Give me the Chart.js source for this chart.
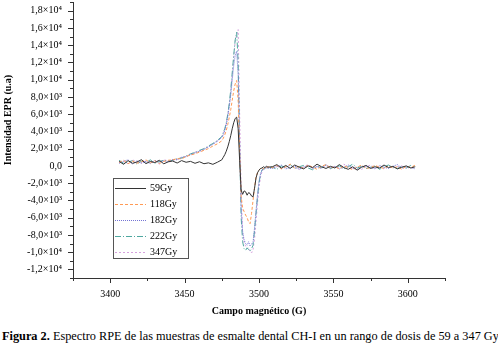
<!DOCTYPE html>
<html>
<head>
<meta charset="utf-8">
<script src="https://cdn.jsdelivr.net/npm/chart.js@4"></script>
<style>
  body { margin: 0; background: #fff; width: 498px; height: 344px; overflow: hidden; position: relative; }
  #marco { position: absolute; left: 0; top: 0; width: 498px; height: 322px; }
  #pie { position: absolute; left: 2px; top: 329px; font-family: 'Liberation Serif', 'Times New Roman', serif;
         font-size: 12.3px; line-height: 14px; white-space: nowrap; color: #000; }
</style>
</head>
<body>
<div id="marco"><canvas id="graficoEPR"></canvas></div>
<div id="pie"><b>Figura 2.</b> Espectro RPE de las muestras de esmalte dental CH-I en un rango de dosis de 59 a 347 Gy</div>
<script>
// campo magnetico (G)
const campo = [
  3406, 3409, 3412, 3415, 3418, 3421, 3424, 3427, 3430, 3433, 3436, 3439, 3442, 3445, 3448, 3451, 3454, 3457, 3460, 3463, 3466, 3469, 3472, 3475,
  3476, 3477, 3478, 3479, 3480, 3481, 3482, 3483, 3484, 3485, 3486, 3487, 3488, 3489, 3490, 3491, 3492, 3493, 3494, 3495, 3496, 3497, 3498, 3499, 3500, 3501, 3502, 3503, 3504, 3505, 3506,
  3509, 3512, 3515, 3518, 3521, 3524, 3527, 3530, 3533, 3536, 3539, 3542, 3545, 3548, 3551, 3554, 3557, 3560, 3563, 3566, 3569, 3572, 3575, 3578, 3581, 3584, 3587, 3590, 3593, 3596, 3599, 3602, 3605
];

// intensidad EPR (u.a) por dosis
const dosis59 = [
  520, 180, 610, 300, 450, 720, 260, 510, 380, 650, 240, 470, 560, 330, 610, 420, 520, 300, 480, 250, 350, 180, 420, 700,
  1000, 1300, 1700, 2200, 2800, 3500, 4300, 5000, 5500, 5650, 4300, 600, -2800, -3300, -2900, -3000, -3400, -3100, -3200, -3500, -3600, -2600, -1400, -800, -500, -300, -250, -100, -200, -50, -150,
  -100, 150, -250, 50, -300, 100, -150, -350, 0, -200, 200, -100, -300, -50, -250, 150, -200, -400, -100, -500, -150, 50, -300, -100, -250, 100, -200, -50, -350, -150, 0, -250, -100
];
const dosis118 = [
  400, 650, 250, 550, 300, 480, 700, 350, 600, 280, 520, 650, 700, 850, 800, 1100, 1250, 1400, 1600, 1800, 2000, 2300, 2550, 2900,
  3200, 3600, 4100, 4800, 5600, 6500, 7600, 8700, 9500, 9900, 7500, 1500, -3500, -4900, -5300, -5700, -6000, -6500, -6700, -5500, -4000, -2500, -1300, -800, -500, -300, -250, -350, -150, -200, -100,
  -200, 50, -350, -100, 200, -250, -50, -300, 100, -150, -400, -50, 150, -250, -100, -350, 0, -200, -450, -150, 100, -300, -200, 50, -150, -300, 0, -250, -100, -400, -50, -200, 100
];
const dosis182 = [
  300, 550, 700, 200, 600, 350, 500, 250, 650, 450, 600, 480, 750, 700, 1000, 1050, 1300, 1500, 1700, 1900, 2200, 2500, 2850, 3300,
  3600, 4100, 4800, 5700, 6900, 8200, 9900, 11600, 12800, 13300, 10500, 2500, -5000, -7600, -8600, -9000, -9200, -8800, -9300, -9100, -8800, -7200, -5200, -3300, -1800, -900, -500, -350, -300, -150, -250,
  -300, -100, 100, -350, -200, 0, -400, -150, 50, -250, -100, -300, 150, -200, -50, -350, -150, 100, -250, -400, -100, 0, -200, -350, 50, -150, -300, -50, 150, -250, -100, -200, -350
];
const dosis222 = [
  650, 300, 450, 600, 200, 550, 400, 700, 300, 500, 650, 550, 650, 850, 900, 1150, 1400, 1550, 1800, 2000, 2300, 2600, 2950, 3400,
  3900, 4300, 5000, 6000, 7200, 8800, 10800, 12800, 14600, 15500, 12000, 2000, -6000, -8800, -9600, -9800, -9500, -9700, -9900, -9600, -9200, -7500, -5500, -3600, -2000, -1000, -500, -300, -350, -200, -250,
  -150, -400, 0, -200, 150, -300, -100, 50, -250, -450, -50, -200, 100, -300, -150, 0, -350, -100, 200, -250, -50, -300, -150, 0, -400, -100, 100, -200, -300, -50, -250, 50, -150
];
const dosis347 = [
  350, 500, 250, 700, 450, 300, 600, 400, 550, 200, 700, 600, 600, 750, 950, 1100, 1350, 1600, 1700, 1950, 2250, 2550, 2900, 3300,
  3700, 4200, 4900, 5800, 7000, 8500, 10500, 12600, 14500, 15200, 15800, 6000, -3000, -7800, -8900, -9300, -9600, -9500, -9900, -10100, -9700, -8500, -6500, -4300, -2500, -1300, -700, -400, -300, -250, -150,
  -250, 0, -300, -150, 100, -200, -400, -100, 150, -300, -50, -250, 50, -350, -100, -200, 200, -150, -300, -50, -400, -100, 100, -250, -150, -350, 50, -200, -100, 0, -300, -150, -250
];

const etiquetas = ['59Gy', '118Gy', '182Gy', '222Gy', '347Gy'];

// marcas de los ejes
const xTicks = [3400, 3450, 3500, 3550, 3600];
const yTicks = [-12000, -10000, -8000, -6000, -4000, -2000, 0, 2000, 4000, 6000, 8000, 10000, 12000, 14000, 16000, 18000];
const yLabels = ['-1,2×10⁴', '-1,0×10⁴', '-8,0×10³', '-6,0×10³', '-4,0×10³', '-2,0×10³', '0,0', '2,0×10³',
                 '4,0×10³', '6,0×10³', '8,0×10³', '1,0×10⁴', '1,2×10⁴', '1,4×10⁴', '1,6×10⁴', '1,8×10⁴'];

const serif = '"Liberation Serif", "Times New Roman", serif';

function serie(label, valores, color, dash) {
  return {
    label: label,
    data: campo.map((c, i) => ({ x: c, y: valores[i] })),
    borderColor: color,
    borderDash: dash,
    borderWidth: 1,
    pointRadius: 0,
    tension: 0
  };
}

// ticks menores, leyenda y titulo del eje y
const extras = {
  id: 'extras',
  afterDraw(chart) {
    const ctx = chart.ctx;
    const sx = chart.scales.x, sy = chart.scales.y;
    const area = chart.chartArea;
    ctx.save();
    ctx.strokeStyle = '#333';
    ctx.lineWidth = 1;
    ctx.setLineDash([]);
    ctx.beginPath();
    const yMenores = yTicks.map(v => v + 1000).concat([yTicks[0] - 1000]);
    yTicks.forEach(v => {
      const p = Math.round(sy.getPixelForValue(v)) + 0.5;
      ctx.moveTo(area.left - 5, p); ctx.lineTo(area.left, p);
    });
    yMenores.forEach(v => {
      if (v < sy.min || v > sy.max) return;
      const p = Math.round(sy.getPixelForValue(v)) + 0.5;
      ctx.moveTo(area.left - 3, p); ctx.lineTo(area.left, p);
    });
    const xMenores = xTicks.map(v => v + 25).concat([xTicks[0] - 25]);
    xTicks.forEach(v => {
      const p = Math.round(sx.getPixelForValue(v)) + 0.5;
      ctx.moveTo(p, area.bottom); ctx.lineTo(p, area.bottom + 5);
    });
    xMenores.forEach(v => {
      if (v < sx.min || v > sx.max) return;
      const p = Math.round(sx.getPixelForValue(v)) + 0.5;
      ctx.moveTo(p, area.bottom); ctx.lineTo(p, area.bottom + 3);
    });
    ctx.stroke();

    // titulo eje y
    ctx.save();
    ctx.translate(8, 120);
    ctx.rotate(-Math.PI / 2);
    ctx.font = 'bold 10px ' + serif;
    ctx.fillStyle = '#000';
    ctx.textAlign = 'center';
    ctx.textBaseline = 'middle';
    ctx.fillText('Intensidad EPR (u.a)', 0, 0);
    ctx.restore();

    // leyenda
    ctx.strokeStyle = '#555';
    ctx.strokeRect(113.5, 178.5, 75, 80);
    ctx.font = '10px ' + serif;
    ctx.textBaseline = 'middle';
    ctx.textAlign = 'left';
    chart.data.datasets.forEach((ds, i) => {
      const yy = 188.5 + i * 16;
      ctx.strokeStyle = ds.borderColor;
      ctx.setLineDash(ds.borderDash || []);
      ctx.beginPath();
      ctx.moveTo(115, yy); ctx.lineTo(146, yy);
      ctx.stroke();
      ctx.fillStyle = '#000';
      ctx.fillText(ds.label, 150, yy);
    });
    ctx.restore();
  }
};

const ctx = document.getElementById('graficoEPR').getContext('2d');
new Chart(ctx, {
  type: 'line',
  data: {
    datasets: [
      serie(etiquetas[0], dosis59, '#333333', []),
      serie(etiquetas[1], dosis118, '#ff9a55', [3, 2]),
      serie(etiquetas[2], dosis182, '#7474d4', [1, 1]),
      serie(etiquetas[3], dosis222, '#4fa8a0', [6, 2, 1, 2]),
      serie(etiquetas[4], dosis347, '#d6a2de', [2, 2])
    ]
  },
  options: {
    responsive: true,
    maintainAspectRatio: false,
    animation: false,
    layout: { padding: { top: 2, right: 53, left: 0, bottom: 0 } },
    plugins: { legend: { display: false }, tooltip: { enabled: false } },
    scales: {
      x: {
        type: 'linear',
        min: 3375,
        max: 3625,
        afterFit: s => { s.height = 44; s.paddingLeft = 0; s.paddingRight = 0; },
        afterBuildTicks: s => { s.ticks = xTicks.map(v => ({ value: v })); },
        grid: { display: false, drawTicks: false },
        border: { display: true, color: '#333' },
        ticks: { font: { family: serif, size: 10 }, color: '#000', padding: 10, maxRotation: 0,
                 callback: v => String(v) },
        title: { display: true, text: 'Campo magnético (G)', color: '#000',
                 font: { family: serif, size: 10, weight: 'bold' }, padding: { top: 0, bottom: 5 } }
      },
      y: {
        min: -13000,
        max: 19000,
        afterFit: s => { s.width = 73; s.paddingTop = 0; s.paddingBottom = 0; },
        afterBuildTicks: s => { s.ticks = yTicks.map(v => ({ value: v })); },
        grid: { display: false, drawTicks: false },
        border: { display: true, color: '#333' },
        ticks: { font: { family: serif, size: 10 }, color: '#000', padding: 11,
                 callback: v => yLabels[yTicks.indexOf(v)] }
      }
    }
  },
  plugins: [extras]
});
</script>
</body>
</html>
